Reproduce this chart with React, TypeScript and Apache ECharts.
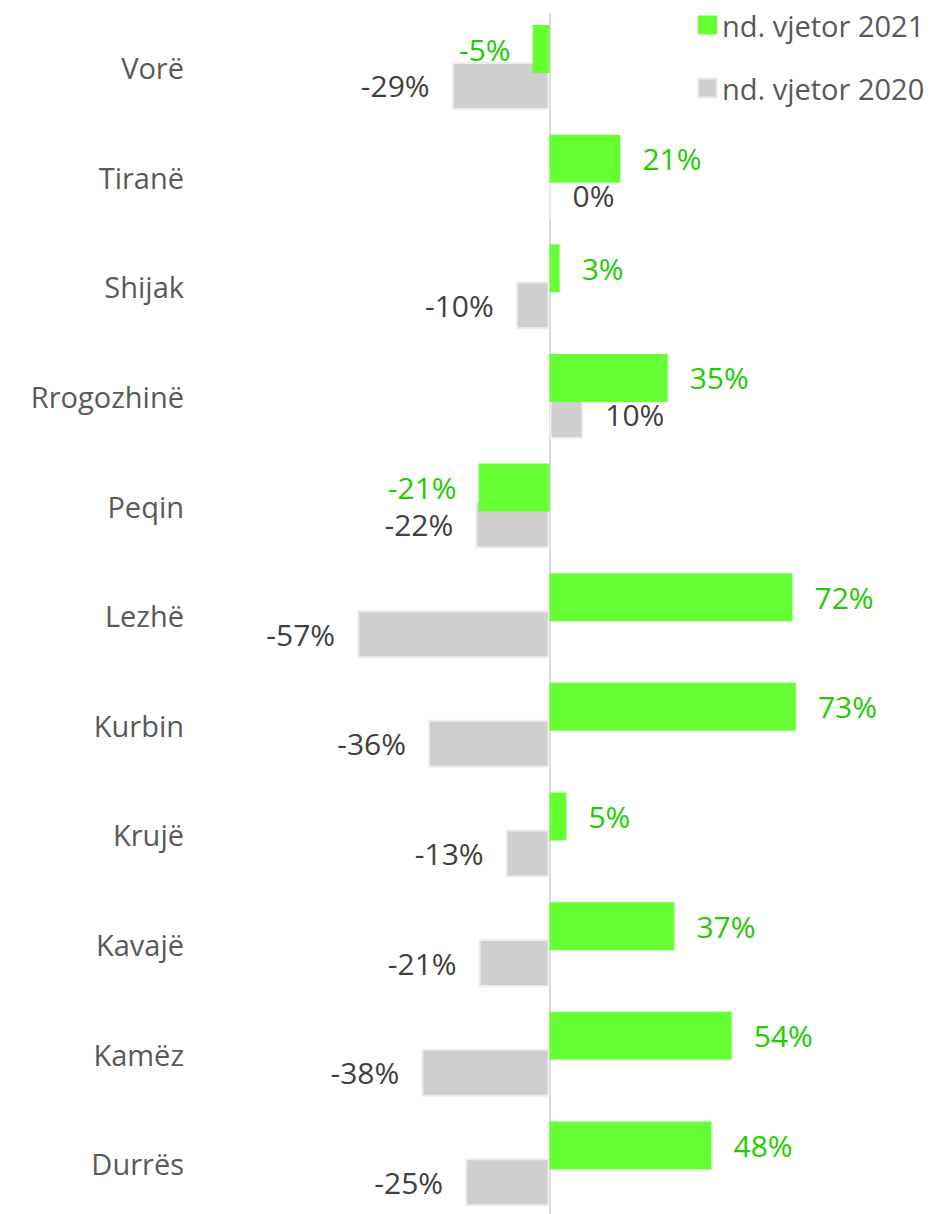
import React, { useEffect, useRef } from "react";
import * as echarts from "echarts";

const categories = ["Durrës", "Kamëz", "Kavajë", "Krujë", "Kurbin", "Lezhë", "Peqin", "Rrogozhinë", "Shijak", "Tiranë", "Vorë"];
const values2021 = [48, 54, 37, 5, 73, 72, -21, 35, 3, 21, -5];
const values2020 = [-25, -38, -21, -13, -36, -57, -22, 10, -10, 0, -29];
const seriesNames = ["nd. vjetor 2021", "nd. vjetor 2020"];

const FONT = "'Open Sans', sans-serif";

function withLabels(values: number[]) {
  return values.map((v) => ({
    value: v,
    label: { position: v < 0 ? "left" : "right" },
  }));
}

export default function App() {
  const ref = useRef<HTMLDivElement>(null);
  useEffect(() => {
    document.body.style.margin = "0";
    const chart = echarts.init(ref.current!, undefined, { renderer: "svg" });
    chart.setOption({
      animation: false,
      backgroundColor: "#ffffff",
      textStyle: { fontFamily: FONT },
      legend: {
        orient: "vertical",
        left: 697,
        top: 10,
        padding: 0,
        itemWidth: 19,
        itemHeight: 19,
        itemGap: 33,
        icon: "rect",
        data: seriesNames,
        textStyle: { fontSize: 29, color: "#595959", fontFamily: FONT, lineHeight: 30 },
      },
      grid: { left: 212, top: 12.7, height: 1206, right: 58, containLabel: false },
      xAxis: {
        type: "value",
        min: -100,
        max: 100,
        interval: 100,
        axisLine: { show: false },
        axisTick: { show: false },
        axisLabel: { show: false },
        splitLine: { show: true, lineStyle: { color: ["transparent", "#D9D9D9", "transparent"], width: 2 } },
      },
      yAxis: {
        type: "category",
        data: categories,
        axisLine: { show: false },
        axisTick: { show: false },
        axisLabel: { margin: 28, fontSize: 29, color: "#595959", fontFamily: FONT },
      },
      series: [
        {
          name: seriesNames[0],
          type: "bar",
          z: 3,
          barWidth: 48,
          barGap: "-23%",
          itemStyle: { color: "#66FF33" },
          label: { show: true, formatter: "{c}%", distance: 22, fontSize: 30, color: "#22CC00", fontFamily: FONT },
          data: withLabels(values2021),
        },
        {
          name: seriesNames[1],
          type: "bar",
          z: 2,
          barWidth: 48,
          itemStyle: { color: "#D0CECF", borderColor: "#EEEEEE", borderWidth: 2 },
          label: { show: true, formatter: "{c}%", distance: 22, fontSize: 30, color: "#404040", fontFamily: FONT },
          data: withLabels(values2020),
        },
      ],
    });
    return () => chart.dispose();
  }, []);
  return (
    <div style={{ position: "absolute", left: 0, top: 0, width: 945, height: 1214, overflow: "hidden" }}>
      <div ref={ref} style={{ width: 945, height: 1240 }} />
    </div>
  );
}
